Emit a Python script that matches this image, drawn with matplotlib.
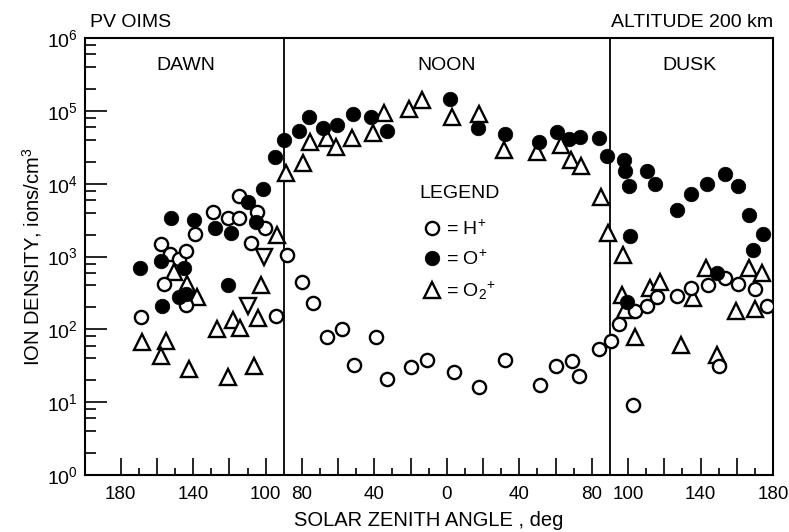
import matplotlib
matplotlib.use("Agg")
import matplotlib.pyplot as plt
from matplotlib.ticker import FixedLocator, LogLocator, NullFormatter

plt.rcParams["font.family"] = ["Liberation Sans", "DejaVu Sans"]
plt.rcParams["mathtext.fontset"] = "custom"
plt.rcParams["mathtext.rm"] = "Liberation Sans"
plt.rcParams["mathtext.it"] = "Liberation Sans:italic"

# signed solar zenith angle: negative = morning (dawn) side, positive = afternoon (dusk) side
h_angle = [-169, -157.5, -153, -148, -144, -156, -144, -139, -129, -121, -114.5, -114.5, -105, -100.5, -108, -94.5, -88,
           -80, -74, -66, -58, -51, -39, -33, -19.5, -11, 4, 18, 32, 51.5, 60.5, 69, 73, 84, 90.5,
           95, 104, 110.5, 116, 127, 135, 144, 153.5, 160.5, 170, 176.5, 150, 103]
h_dens = [150, 1490, 1090, 920, 1200, 420, 215, 2040, 4140, 3360, 3360, 6870, 4140, 2450, 1550, 154, 1050,
          440, 230, 79, 100, 32, 79, 21, 30, 38, 26, 16, 38, 17, 31, 37, 23, 53, 69,
          120, 180, 210, 280, 290, 370, 410, 510, 420, 360, 210, 31, 9.2]

o_angle = [-169.5, -152, -139.5, -157.5, -145, -157, -148, -144, -128, -119, -109.5, -105.5, -101.5, -120.5, -95, -90,
           -81.5, -76, -68.5, -60.5, -52, -42, -33, 1.5, 17, 32, 51, 61, 67.5, 73.5, 84, 88.5,
           98, 98.5, 100.5, 110.5, 115, 127, 134.5, 143.5, 153.5, 160.5, 166.5, 174.5, 169, 101, 99.5, 149]
o_dens = [690, 3420, 3180, 880, 690, 210, 280, 305, 2500, 2090, 5570, 3000, 8500, 400, 23600, 40000,
          53600, 81900, 59000, 64200, 91000, 81900, 53100, 145000, 59000, 48300, 37900, 52000, 41200, 44400, 43000, 24100,
          21200, 14700, 9300, 15000, 9800, 4370, 7240, 9800, 13600, 9400, 3730, 2040, 1230, 1920, 236, 590]

o2_angle = [-168, -155, -158, -142.5, -127, -118, -114, -104, -120.5, -106.5, -102.5, -150.5, -143.5, -138, -94, -89,
            -79.5, -75.5, -66, -61, -52.5, -41, -34.5, -21, -13.5, 3, 18, 31.5, 50, 63, 68.5, 74, 85, 89,
            97.5, 96.5, 98.5, 104, 112, 117.5, 129, 136, 143, 149, 159.5, 166.5, 170, 174]
o2_dens = [66, 69, 43, 29, 100, 135, 104, 142, 22.4, 31, 407, 610, 420, 281, 1980, 14200,
           19500, 37900, 42200, 31700, 42200, 49400, 93000, 105000, 142000, 83500, 91000, 29100, 27600, 34100, 21200, 17600, 6650, 2090,
           1050, 297, 185, 79, 367, 452, 61, 267, 691, 44.5, 181, 704, 189, 590]

# two points drawn with inverted triangles in the original
o2v_angle = [-101, -109.5]
o2v_dens = [1000, 210]

major_ticks = [-180, -160, -140, -120, -100, -80, -60, -40, -20, 0, 20, 40, 60, 80, 100, 120, 140, 160, 180]
tick_labels = ["180", "", "140", "", "100", "80", "", "40", "", "0", "", "40", "", "80", "100", "", "140", "", "180"]
minor_ticks = [-170, -150, -130, -110, -70, -50, -30, -10, 10, 30, 50, 70, 110, 130, 150, 170]

fig = plt.figure(figsize=(7.89, 5.32), dpi=100)
ax = fig.add_axes([0.1077, 0.1071, 0.8720, 0.8215])

ms = 9.5
mew = 1.7
ax.plot(o2_angle, o2_dens, ls="none", marker="^", ms=ms + 1.5, mfc="white", mec="black", mew=mew, zorder=3)
ax.plot(o2v_angle, o2v_dens, ls="none", marker="v", ms=ms + 1.5, mfc="white", mec="black", mew=mew, zorder=3)
ax.plot(h_angle, h_dens, ls="none", marker="o", ms=ms, mfc="white", mec="black", mew=mew, zorder=4)
ax.plot(o_angle, o_dens, ls="none", marker="o", ms=ms + 1, mfc="black", mec="black", mew=0.5, zorder=5)

ax.axvline(-90, color="black", lw=1.3, zorder=2)
ax.axvline(90, color="black", lw=1.3, zorder=2)

ax.set_yscale("log")
ax.set_ylim(1, 1e6)
ax.set_xlim(-199.7, 180)

ax.xaxis.set_major_locator(FixedLocator(major_ticks))
ax.set_xticklabels(tick_labels)
ax.xaxis.set_minor_locator(FixedLocator(minor_ticks))
ax.set_yticks([10 ** k for k in range(7)])
ax.set_yticklabels([f"$10^{{{k}}}$" for k in range(7)])
ax.yaxis.set_minor_locator(LogLocator(base=10, subs=[2, 4, 6, 8]))
ax.yaxis.set_minor_formatter(NullFormatter())

ax.tick_params(axis="x", which="major", direction="in", length=12, width=1.2, labelsize=13.5, pad=8)
ax.tick_params(axis="x", which="minor", direction="in", length=5, width=1.2)
ax.tick_params(axis="y", which="major", direction="in", length=16, width=1.2, labelsize=14, pad=5)
ax.tick_params(axis="y", which="minor", direction="in", length=8, width=1.2)
for s in ax.spines.values():
    s.set_linewidth(1.5)

ax.set_xlabel("SOLAR ZENITH ANGLE , deg", fontsize=14.5, labelpad=6)
ax.set_ylabel("ION DENSITY, ions/cm$^3$", fontsize=14.5, labelpad=2)

fig.text(0.114, 0.957, "PV OIMS", fontsize=14, ha="left", va="center")
fig.text(0.980, 0.957, "ALTITUDE 200 km", fontsize=14, ha="right", va="center")

ax.text(-144, 4.2e5, "DAWN", fontsize=14, ha="center", va="center")
ax.text(0, 4.2e5, "NOON", fontsize=14, ha="center", va="center")
ax.text(134, 4.2e5, "DUSK", fontsize=14, ha="center", va="center")

ax.text(0.545, 0.645, "LEGEND", transform=ax.transAxes, fontsize=14, ha="center", va="center")
handles = [
    plt.Line2D([], [], ls="none", marker="o", ms=ms, mfc="white", mec="black", mew=mew),
    plt.Line2D([], [], ls="none", marker="o", ms=ms + 1, mfc="black", mec="black", mew=0.5),
    plt.Line2D([], [], ls="none", marker="^", ms=ms + 1.5, mfc="white", mec="black", mew=mew),
]
labels = ["= H$^{+}$", "= O$^{+}$", "= O$_2$$^{+}$"]
leg = ax.legend(handles, labels, loc="upper left", bbox_to_anchor=(0.493, 0.585),
                frameon=False, fontsize=14, handlelength=0.8, handletextpad=0.3,
                labelspacing=0.55, borderpad=0, borderaxespad=0)

fig.savefig("out.png", dpi=100)
